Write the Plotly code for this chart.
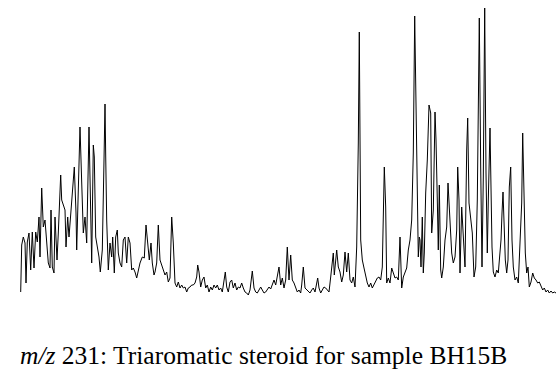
import plotly.graph_objects as go

# Retention position (scan) and detector intensity
scan = [
    20.7, 21.0, 21.7, 23.3, 25.0, 26.0, 27.3, 29.0, 30.7, 32.3, 34.0, 35.7, 37.3, 39.0, 40.0, 41.7,
    43.3, 45.0, 46.7, 48.3, 50.0, 51.0, 52.3, 54.0, 55.0, 57.0, 58.3, 60.7, 61.7, 63.3, 65.0, 66.0,
    67.7, 69.0, 71.0, 72.3, 74.3, 76.0, 76.7, 78.3, 80.0, 81.7, 83.3,
    85.0, 86.7, 89.0, 90.7, 91.7, 93.3, 94.3, 95.7, 97.3, 99.0, 100.3, 102.3, 104.0, 105.0, 105.7,
    106.7, 108.3, 110.0, 111.7, 112.7, 114.3, 115.7, 117.3, 118.3, 120.0, 121.7, 123.3, 125.0, 126.7,
    128.3, 130.0, 131.7, 133.3, 135.0, 136.7, 138.3, 140.0, 142.3, 144.3, 146.0, 147.7, 149.3, 151.0,
    152.3, 154.0,
    155.0, 156.7, 158.3, 160.0, 161.7, 163.3, 165.0, 166.7, 168.3, 170.0, 171.7, 173.3, 175.0, 176.7,
    178.3, 180.0, 181.7, 183.3, 185.0, 186.7, 188.3, 190.0, 191.7, 193.3, 195.0, 196.7, 197.7, 199.0,
    200.7, 202.3, 204.0, 205.7, 207.3, 209.0, 210.7, 212.3, 214.0, 215.7, 217.3, 219.0, 220.7, 222.3,
    224.0, 225.3, 226.7, 228.3,
    230.0, 231.7, 233.3, 235.0, 236.7, 238.3, 240.0, 241.7, 243.3, 245.0, 246.7, 248.3, 250.0, 252.3,
    254.0, 255.7, 257.3, 259.0, 260.7, 262.3, 264.0, 265.7, 267.3, 269.0, 270.7, 272.3, 274.0, 275.7,
    277.3, 279.0, 280.7, 282.3, 284.0, 285.7, 287.3, 289.0, 290.7, 292.3, 294.0, 295.7, 297.3, 299.0,
    300.7, 301.7, 303.3, 305.0, 306.7, 308.3, 310.0, 311.7, 313.3, 315.0, 316.7, 317.7, 319.0, 320.7,
    322.3, 324.0, 325.7, 327.3, 329.0, 330.7, 332.3, 333.3, 334.3, 335.7, 336.7, 338.3, 340.0, 341.7,
    343.3, 345.0, 346.7, 348.3, 350.0,
    351.7, 353.3, 355.0, 356.7, 358.3, 359.3, 360.7, 362.3, 364.0, 365.7, 367.3, 369.0, 370.7, 372.3,
    374.0, 375.7, 377.3, 379.0, 380.7, 382.3, 383.3, 384.3, 385.7, 386.7, 388.3, 390.0, 391.7, 393.3,
    395.0, 396.7, 398.3, 400.0, 401.7, 403.3, 405.0, 406.7, 408.3, 410.0, 411.7, 413.3, 414.7, 416.7,
    418.3, 419.3,
    420.0, 421.0, 422.3, 423.3, 424.3, 425.7, 427.3, 429.0, 430.7, 431.7, 433.3, 435.0, 436.0, 437.3,
    438.3, 439.3, 440.7, 441.7, 443.3, 445.0, 446.7, 448.0, 449.3, 450.7, 451.7, 453.3, 455.0, 456.7,
    457.7, 459.0, 460.0, 461.7, 463.3, 465.0, 466.7, 467.7, 469.0, 470.7, 472.3, 474.0, 475.7, 477.3,
    478.3, 479.3, 480.7, 482.0, 483.3, 484.7, 486.0, 487.3, 488.3, 490.0,
    492.0, 493.3, 495.0, 496.7, 498.3, 499.3, 501.0, 502.0, 503.0, 504.3, 505.3, 506.7, 508.0, 509.3,
    510.7, 512.0, 513.3, 515.0, 516.7, 518.3, 520.0, 521.7, 522.7, 524.0, 525.3, 526.7, 528.0, 529.3,
    531.0, 532.7, 534.3, 536.0, 537.7, 539.3, 541.0, 542.7, 544.3, 546.0, 547.7, 549.3, 551.0, 552.7,
    554.3, 556.0,
]

intensity = [
    8, 31, 55, 63, 57, 17, 58, 67, 30, 68, 32, 68, 58, 83, 43, 112,
    73, 80, 57, 37, 32, 90, 33, 27, 83, 40, 67, 125, 100, 95, 90, 53,
    83, 63, 93, 110, 133, 87, 50, 110, 173, 118, 67,
    83, 57, 173, 93, 37, 155, 143, 63, 53, 43, 28, 50, 140, 196, 145,
    80, 30, 57, 43, 63, 27, 63, 70, 47, 37, 33, 60, 63, 37,
    63, 57, 30, 32, 28, 22, 30, 37, 43, 42, 75, 60, 40, 57,
    37, 25,
    28, 37, 75, 40, 35, 32, 25, 28, 18, 22, 83, 57, 17, 13,
    18, 12, 15, 12, 13, 8, 12, 13, 15, 15, 17, 23, 35, 28,
    13, 20, 23, 12, 15, 8, 13, 10, 15, 12, 15, 10, 12, 8,
    18, 28, 13, 8,
    18, 20, 12, 17, 10, 13, 12, 17, 12, 8, 7, 5, 10, 29,
    12, 8, 7, 10, 13, 10, 7, 8, 10, 13, 11, 15, 20, 15,
    23, 33, 15, 22, 12, 20, 53, 20, 45, 20, 17, 13, 8, 10,
    7, 15, 33, 12, 10, 8, 7, 10, 12, 8, 20, 22, 12, 7,
    10, 13, 12, 10, 8, 23, 38, 47, 25, 40, 50, 33, 28, 18,
    25, 48, 28, 47, 20,
    17, 23, 13, 53, 157, 268, 60, 40, 32, 23, 17, 13, 17, 12,
    15, 18, 22, 23, 20, 33, 107, 133, 93, 17, 22, 17, 32, 27,
    22, 23, 20, 63, 12, 23, 27, 32, 50, 60, 80, 147, 284, 155,
    43, 63,
    60, 33, 83, 27, 47, 107, 140, 195, 187, 67, 90, 188, 160, 100,
    50, 115, 30, 22, 33, 60, 73, 117, 93, 67, 47, 37, 43, 70,
    133, 100, 27, 93, 60, 33, 150, 182, 97, 80, 67, 23, 33, 100,
    177, 282, 133, 33, 123, 292, 127, 47, 100, 172,
    53, 28, 23, 30, 27, 37, 60, 87, 108, 70, 40, 27, 40, 113,
    133, 60, 33, 20, 23, 17, 50, 97, 167, 93, 47, 27, 33, 13,
    18, 27, 22, 20, 17, 18, 13, 10, 12, 8, 10, 7, 9, 7,
    8, 7,
]

caption_italic = "m/z"
caption_rest = " 231: Triaromatic steroid for sample BH15B"

fig = go.Figure()
fig.add_trace(go.Scatter(
    x=scan, y=intensity, mode="lines",
    line=dict(color="black", width=1),
    hoverinfo="skip", showlegend=False,
))

fig.update_layout(
    width=556, height=376,
    margin=dict(l=0, r=0, t=0, b=0),
    paper_bgcolor="white", plot_bgcolor="white",
    xaxis=dict(range=[0, 556], visible=False, fixedrange=True),
    yaxis=dict(range=[-76, 300], visible=False, fixedrange=True),
    annotations=[dict(
        x=18 / 556, y=1 - 355 / 376, xref="paper", yref="paper",
        xanchor="left", yanchor="middle", showarrow=False,
        text="<i>" + caption_italic + "</i>" + caption_rest,
        font=dict(family="Liberation Serif", size=25.5, color="black"),
    )],
)

fig.write_html("out.html")
